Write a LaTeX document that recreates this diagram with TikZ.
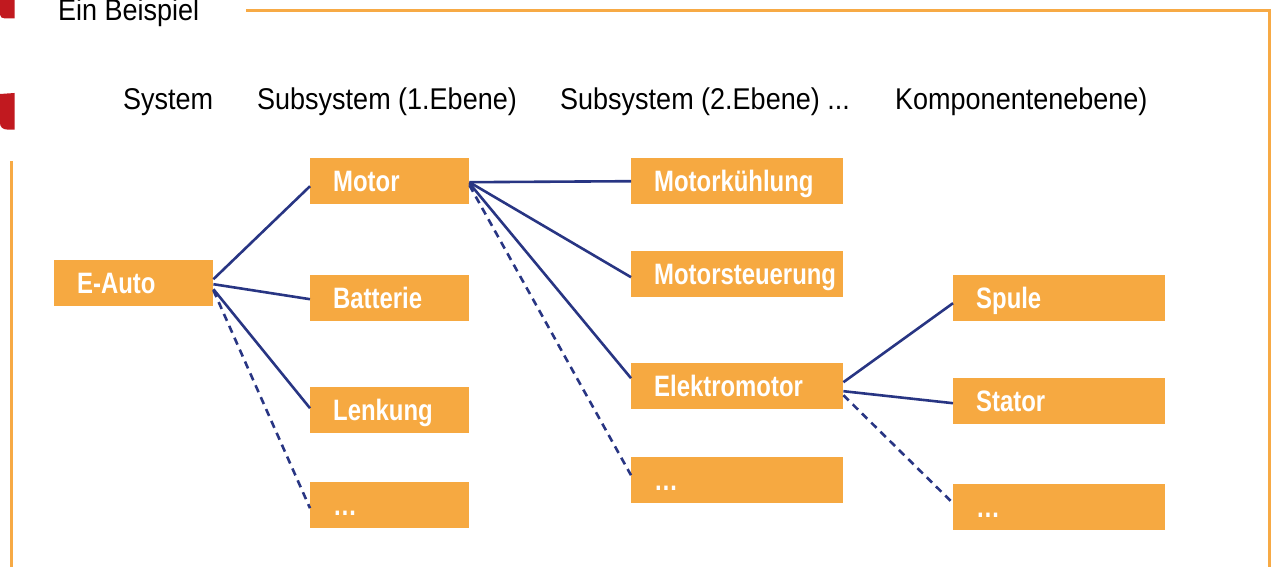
\documentclass[tikz,border=0pt]{standalone}
\usepackage{fontspec}
\newfontfamily\headfont[FakeStretch=0.9]{Liberation Sans}
\newfontfamily\boxfont[FakeStretch=0.81]{Liberation Sans}
\definecolor{boxorange}{HTML}{F6A941}
\definecolor{frameorange}{HTML}{F7AA45}
\definecolor{linknavy}{HTML}{283583}
\definecolor{logored}{HTML}{C1191F}
\begin{document}
\begin{tikzpicture}[x=1pt,y=-1pt,
  heading/.style={anchor=base west,inner sep=0pt,font=\headfont\fontsize{30}{32}\selectfont},
  part/.style={anchor=north west,fill=boxorange,inner xsep=0pt,inner ysep=0pt,
    minimum height=46pt,text height=20pt,text depth=0pt,align=left,text=white,
    font=\boxfont\bfseries\fontsize{29.5}{31}\selectfont},
  narrowpart/.style={part,minimum width=159pt,text width=113pt},
  widepart/.style={part,minimum width=212pt,text width=166pt},
  link/.style={draw=linknavy,line width=2.6pt},
  dashlink/.style={link,dash pattern=on 7.5pt off 5.5pt}]
\useasboundingbox (0,0) rectangle (1273,567);

% logo fragments at the left edge
\fill[logored] (0,0) -- (14.5,0) -- (14.5,18.5) -- (5,18.5)
  .. controls (2,18.5) and (0,17) .. (0,14.5) -- cycle;
\fill[logored] (0,94) -- (14.5,93) -- (14.5,129.5) -- (7,129.5)
  .. controls (3,129.5) and (0,127) .. (0,123) -- cycle;

% frame
\draw[frameorange,line width=2.6pt] (246,10.3) -- (1269.7,10.3) -- (1269.7,567);
\draw[frameorange,line width=2.6pt] (11.5,161) -- (11.5,567);

% titles
\node[heading] (title) at (58,21) {Ein Beispiel};
\node[heading] (hsys) at (123,110) {System};
\node[heading] (hsub1) at (257,110) {Subsystem (1.Ebene)};
\node[heading] (hsub2) at (560,110) {Subsystem (2.Ebene) ...};
\node[heading] (hcomp) at (895,110) {Komponentenebene)};

% boxes
\node[narrowpart] (eauto) at (54,260) {E-Auto};
\node[narrowpart] (motor) at (310,158) {Motor};
\node[narrowpart] (batterie) at (310,275) {Batterie};
\node[narrowpart] (lenkung) at (310,387) {Lenkung};
\node[narrowpart] (dotsA) at (310,482) {…};
\node[widepart] (kuehlung) at (631,158) {Motorkühlung};
\node[widepart] (steuerung) at (631,251) {Motorsteuerung};
\node[widepart] (elektro) at (631,363) {Elektromotor};
\node[widepart] (dotsB) at (631,457) {…};
\node[widepart] (spule) at (953,275) {Spule};
\node[widepart] (stator) at (953,378) {Stator};
\node[widepart] (dotsC) at (953,484) {…};

% connectors
\draw[link] ([yshift=4pt]eauto.east) -- ([yshift=-5pt]motor.west);
\draw[link] ([yshift=-1pt]eauto.east) -- ([yshift=-1pt]batterie.west);
\draw[link] ([yshift=-6pt]eauto.east) -- ([yshift=2pt]lenkung.west);
\draw[dashlink] ([yshift=-7pt]eauto.east) -- ([yshift=-3pt]dotsA.west);

\draw[link] ([yshift=-1pt]motor.east) -- (kuehlung.west);
\draw[link] ([yshift=-1pt]motor.east) -- ([yshift=-3pt]steuerung.west);
\draw[link] ([yshift=-2pt]motor.east) -- ([yshift=8pt]elektro.west);
\draw[dashlink] ([yshift=-4pt]motor.east) -- ([yshift=5pt]dotsB.west);

\draw[link] ([yshift=4pt]elektro.east) -- ([yshift=-5pt]spule.west);
\draw[link] ([yshift=-5pt]elektro.east) -- ([yshift=-2pt]stator.west);
\draw[dashlink] ([yshift=-9pt]elektro.east) -- ([yshift=4pt]dotsC.west);
\end{tikzpicture}
\end{document}
